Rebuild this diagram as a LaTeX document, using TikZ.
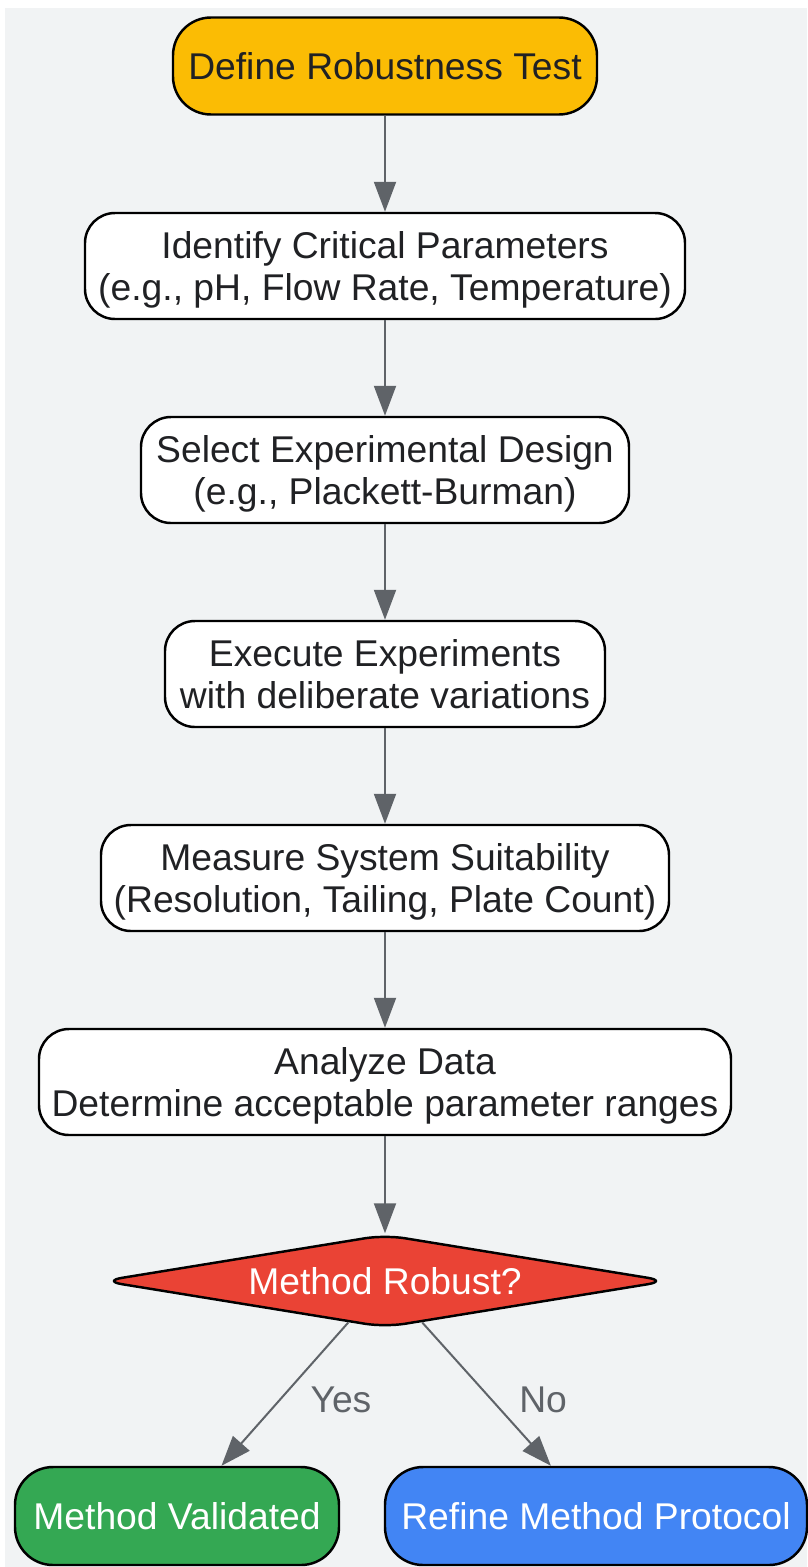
\documentclass[tikz,border=0pt]{standalone}
\usepackage{fontspec}
\setmainfont{Liberation Sans}
\usetikzlibrary{shapes.geometric,arrows.meta}

\definecolor{bggrey}{HTML}{F1F3F4}
\definecolor{ink}{HTML}{202124}
\definecolor{flowgrey}{HTML}{5F6368}
\definecolor{gyellow}{HTML}{FBBC04}
\definecolor{gred}{HTML}{EA4335}
\definecolor{ggreen}{HTML}{34A853}
\definecolor{gblue}{HTML}{4285F4}

\begin{document}
\begin{tikzpicture}[
    font=\fontsize{10.6}{12.1}\selectfont,
    box/.style={draw=black,line width=0.7pt,rounded corners=0.3cm,align=center,
        text=ink,fill=white,minimum height=1.06cm,text depth=0pt},
    terminal/.style={box,rounded corners=0.38cm,minimum height=0.97cm},
    decide/.style={draw=black,line width=0.7pt,diamond,aspect=6,inner sep=0pt,
        fill=gred,text=white,rounded corners=0.2cm,minimum width=5.66cm,minimum height=0.93cm},
    flow/.style={draw=flowgrey,line width=0.57pt,-{Triangle[length=0.3cm,width=0.22cm]}}
]
    \useasboundingbox (0,0) rectangle (8.07,-15.67);
    \fill [bggrey] (0.05,-0.08) rectangle (8.07,-15.67);

    \path (3.85, -0.66) node [terminal,fill=gyellow,minimum width=4.24cm] (define) {Define Robustness Test};
    \path (3.85, -2.66) node [box,minimum width=6.00cm] (params) {Identify Critical Parameters\\(e.g., pH, Flow Rate, Temperature)};
    \path (3.85, -4.70) node [box,minimum width=4.88cm] (design) {Select Experimental Design\\(e.g., Plackett-Burman)};
    \path (3.85, -6.74) node [box,minimum width=4.40cm] (execute) {Execute Experiments\\with deliberate variations};
    \path (3.85, -8.78) node [box,minimum width=5.68cm] (measure) {Measure System Suitability\\(Resolution, Tailing, Plate Count)};
    \path (3.85,-10.82) node [box,minimum width=6.92cm] (analyze) {Analyze Data\\Determine acceptable parameter ranges};
    \path (3.85,-12.81) node [decide] (robust) {Method Robust?};
    \path (1.77,-15.16) node [terminal,fill=ggreen,text=white,minimum width=3.24cm,minimum height=0.98cm] (validated) {Method Validated};
    \path (5.96,-15.16) node [terminal,fill=gblue,text=white,minimum width=4.22cm,minimum height=0.98cm] (refine) {Refine Method Protocol};

    \draw [flow] (define) -- (params);
    \draw [flow] (params) -- (design);
    \draw [flow] (design) -- (execute);
    \draw [flow] (execute) -- (measure);
    \draw [flow] (measure) -- (analyze);
    \draw [flow] (analyze) -- (robust);
    \draw [flow] (robust) -- (validated) node [midway,right,xshift=0.13cm,yshift=-0.06cm,text=flowgrey] {Yes};
    \draw [flow] (robust) -- (refine) node [midway,right,xshift=0.2cm,yshift=-0.06cm,text=flowgrey] {No};
\end{tikzpicture}
\end{document}
